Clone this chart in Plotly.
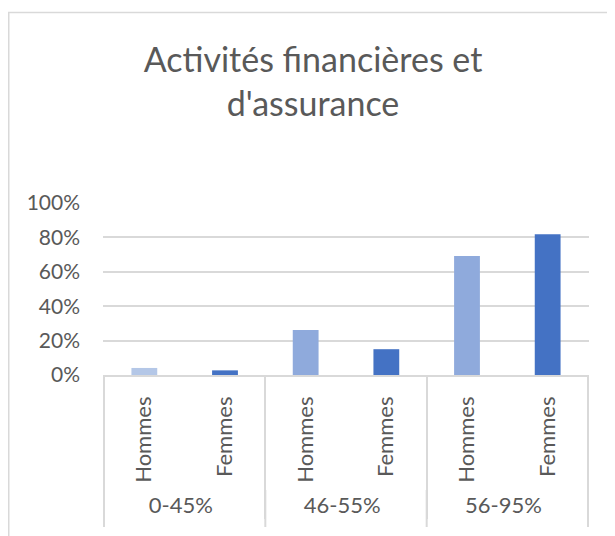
import plotly.graph_objects as go

title = "Activités financières et<br>d'assurance"
groups = ["0-45%", "0-45%", "46-55%", "46-55%", "56-95%", "56-95%"]
sexes = ["Hommes", "Femmes", "Hommes", "Femmes", "Hommes", "Femmes"]
values = [0.041, 0.027, 0.262, 0.150, 0.692, 0.818]
bar_colors = ["#B4C7E7", "#4472C4", "#8FAADC", "#4472C4", "#8FAADC", "#4472C4"]
y_ticks = [0, 0.2, 0.4, 0.6, 0.8, 1.0]
y_tick_text = ["0%", "20%", "40%", "60%", "80%", "100%"]

FONT = "Lato"
GRAY = "#595959"
LINE = "#D9D9D9"

fig = go.Figure(go.Bar(
    x=[groups, sexes],
    y=values,
    marker=dict(color=bar_colors, line=dict(width=0)),
    width=0.32,
    hoverinfo="skip",
))

# page is shown with an 8px body margin, so figure coords = page coords - 8
OFF = 8
W, H = 615, 536
L, R, T, B = 103 - OFF, W - (589 - OFF), 203 - OFF, H - (375 - OFF)
pw = W - L - R
ph = H - T - B

def px_to_paper_x(px):
    return (px - OFF - L) / pw

def px_to_paper_y(py):
    return (H - B - (py - OFF)) / ph

shapes = [
    dict(type="line", xref="paper", yref="paper",
         x0=px_to_paper_x(8), x1=px_to_paper_x(640),
         y0=px_to_paper_y(12.5), y1=px_to_paper_y(12.5),
         line=dict(color=LINE, width=1.5)),
    dict(type="line", xref="paper", yref="paper",
         x0=px_to_paper_x(8.75), x1=px_to_paper_x(8.75),
         y0=px_to_paper_y(12), y1=px_to_paper_y(560),
         line=dict(color=LINE, width=1.5)),
]
# extend the group dividers down to the bottom of the label area
for xb in [-0.5, 1.5, 3.5, 5.5]:
    shapes.append(dict(type="line", xref="x", yref="paper",
                       x0=xb, x1=xb,
                       y0=px_to_paper_y(490), y1=px_to_paper_y(527),
                       line=dict(color=LINE, width=2)))

fig.update_layout(
    width=W, height=H,
    margin=dict(l=L, r=R, t=T, b=B, pad=0, autoexpand=False),
    paper_bgcolor="white", plot_bgcolor="white",
    showlegend=False,
    font=dict(family=FONT, color=GRAY, size=19),
    title=dict(text=title, x=305 / W, xanchor="center", xref="container",
               y=(H - 64) / H, yanchor="middle", yref="container",
               font=dict(family=FONT, size=34, color=GRAY)),
    xaxis=dict(
        type="multicategory",
        tickangle=-90,
        showgrid=False,
        showline=True, linecolor=LINE, linewidth=1.5,
        ticks="", showdividers=True, dividercolor=LINE, dividerwidth=2,
        tickfont=dict(family=FONT, size=22, color=GRAY),
        ticklabelstandoff=11,
    ),
    yaxis=dict(
        range=[0, 1.0], tickvals=y_ticks, ticktext=y_tick_text,
        showgrid=True, gridcolor=LINE, gridwidth=1.5,
        zeroline=False, showline=False, ticks="",
        tickfont=dict(family=FONT, size=21, color=GRAY),
        ticklabelstandoff=22,
    ),
    shapes=shapes,
)

fig.write_html("out.html")
